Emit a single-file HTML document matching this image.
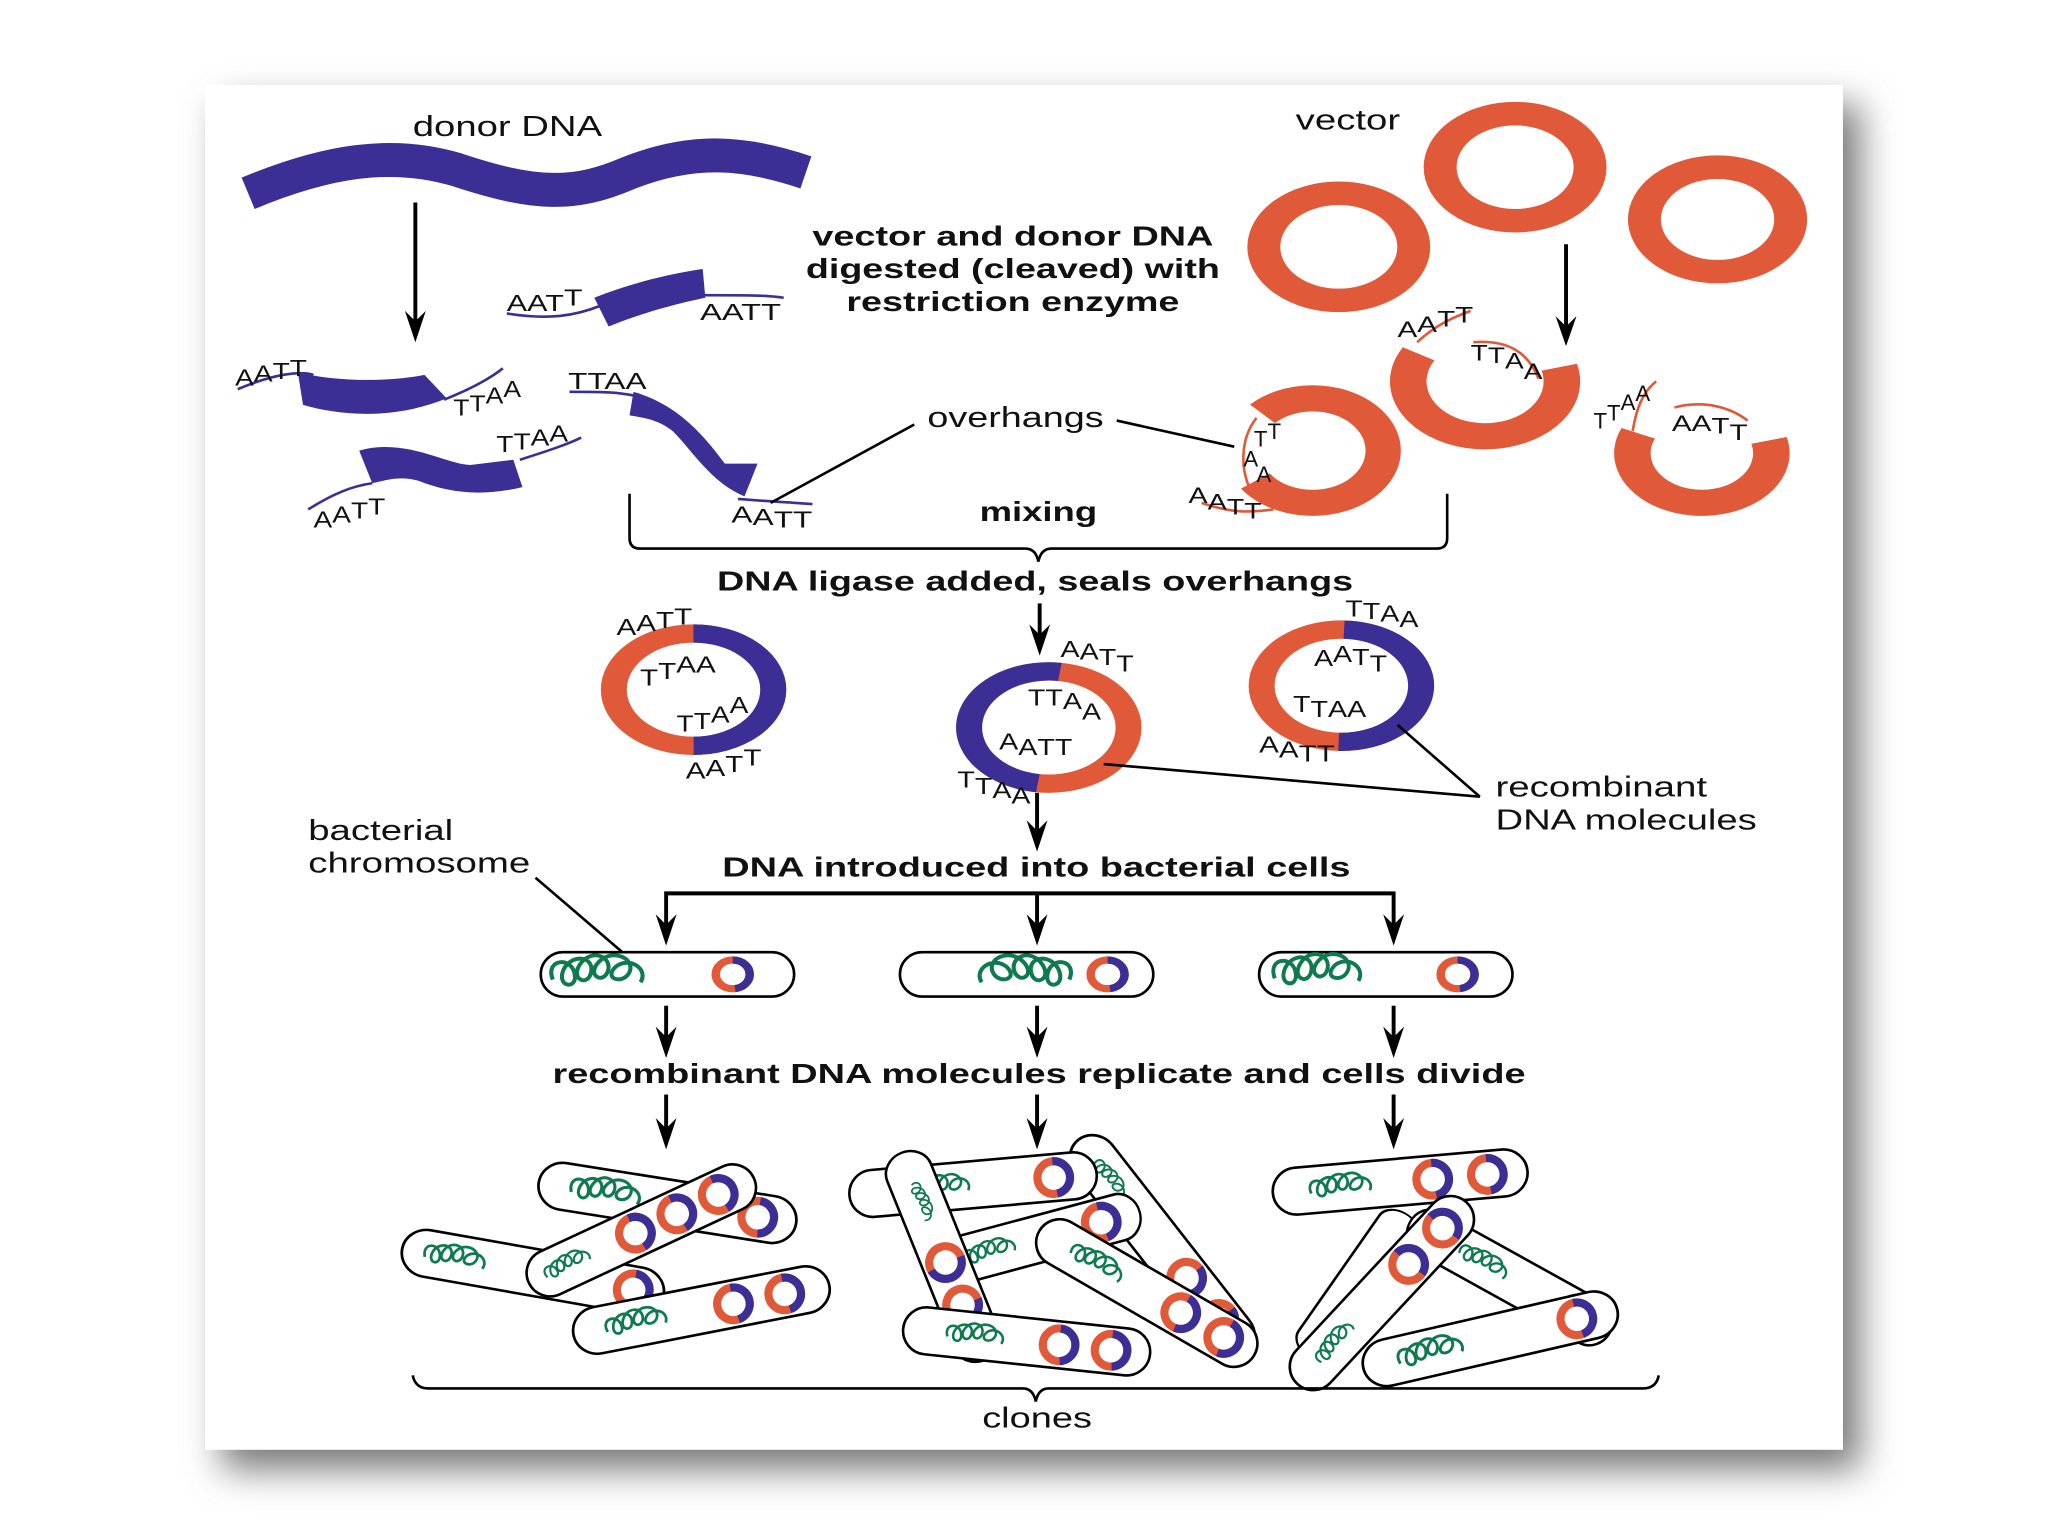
<!DOCTYPE html>
<html><head><meta charset="utf-8"><style>
html,body{margin:0;padding:0;background:#fff}
svg{display:block}
text{font-family:"Liberation Sans",sans-serif;fill:#111}
.b{font-weight:bold}
.s{font-size:18px}
</style></head><body>
<svg width="2048" height="1536" viewBox="0 0 1568 1176" xmlns="http://www.w3.org/2000/svg">
<defs>
<filter id="sh" x="-10%" y="-10%" width="130%" height="130%"><feGaussianBlur stdDeviation="14"/></filter>
<g id="pl"><circle r="10" fill="none" stroke="#e05a3a" stroke-width="5"/><circle r="10" fill="none" stroke="#3b2f96" stroke-width="5" stroke-dasharray="30 33" transform="rotate(-90)"/></g>
<path id="sq" d="M-55,4 c-6,-16 14,-18 16,-4 c2,12 -14,10 -8,-4 c6,-12 22,-10 20,2 c-2,12 -16,6 -8,-6 c8,-12 24,-6 20,6 c-4,10 -16,2 -6,-8 c10,-10 26,-2 22,8 c-4,10 -20,6 -10,-4 c10,-8 24,2 18,12" fill="none" stroke="#0e7a4e" stroke-width="3"/>
<g id="cap"><rect x="-95" y="-18" width="190" height="36" rx="18" fill="#fff" stroke="#000" stroke-width="2"/></g>
</defs>
<rect x="170" y="80" width="1254" height="1045" fill="#777" filter="url(#sh)"/>
<rect x="157" y="65" width="1254" height="1045" fill="#fff"/>

<!-- donor DNA -->
<text x="316" y="104" font-size="22" textLength="145" lengthAdjust="spacingAndGlyphs">donor DNA</text>
<path d="M190,148 C250,123 300,115 350,130 C410,150 440,150 480,133 C530,113 570,116 617,132" fill="none" stroke="#3b2f96" stroke-width="26"/>
<line x1="318" y1="155" x2="318" y2="250" stroke="#000" stroke-width="3"/>
<polygon points="310,238 318,262 326,238 318,246" fill="#000"/>
<!-- fragments -->
<path d="M388,240 C420,245 440,242 460,234" fill="none" stroke="#3b2f96" stroke-width="2"/>
<path d="M538,226 C570,226 590,226 600,228" fill="none" stroke="#3b2f96" stroke-width="2"/>
<path d="M455,228 C480,218 510,210 538,206 L540,228 C520,232 490,240 466,250 Z" fill="#3b2f96"/>
<text x="388" y="238" class="s" textLength="58" lengthAdjust="spacingAndGlyphs">AAT<tspan dy="-4">T</tspan></text>
<text x="536" y="245" class="s" textLength="62" lengthAdjust="spacingAndGlyphs">AATT</text>
<path d="M182,298 C210,286 230,284 240,287" fill="none" stroke="#3b2f96" stroke-width="2"/>
<path d="M228,285 C260,293 300,292 325,287 L342,305 C300,322 260,318 232,310 Z" fill="#3b2f96"/>
<path d="M340,306 C360,298 375,290 385,282" fill="none" stroke="#3b2f96" stroke-width="2"/>
<text x="180" y="295" class="s" textLength="55" lengthAdjust="spacingAndGlyphs">A<tspan dy="-3">A</tspan><tspan dy="-2">T</tspan><tspan dy="-2">T</tspan></text>
<text x="347" y="318" class="s" textLength="52" lengthAdjust="spacingAndGlyphs">T<tspan dy="-3">T</tspan><tspan dy="-6">A</tspan><tspan dy="-5">A</tspan></text>
<path d="M236,390 C255,378 270,372 285,370" fill="none" stroke="#3b2f96" stroke-width="2"/>
<path d="M275,345 C310,335 340,355 360,356 L393,352 L400,373 C370,380 345,378 320,368 C305,364 295,368 285,370 Z" fill="#3b2f96"/>
<path d="M398,352 C420,345 435,340 445,335" fill="none" stroke="#3b2f96" stroke-width="2"/>
<text x="240" y="404" class="s" textLength="55" lengthAdjust="spacingAndGlyphs">A<tspan dy="-4">A</tspan><tspan dy="-3">T</tspan><tspan dy="-3">T</tspan></text>
<text x="380" y="346" class="s" textLength="55" lengthAdjust="spacingAndGlyphs">T<tspan dy="-2">T</tspan><tspan dy="-3">A</tspan><tspan dy="-3">A</tspan></text>
<path d="M436,300 C460,300 475,300 490,304" fill="none" stroke="#3b2f96" stroke-width="2"/>
<path d="M485,300 C520,310 540,335 555,355 L580,355 L570,380 C545,370 530,345 515,330 C505,322 495,320 482,318 Z" fill="#3b2f96"/>
<path d="M565,382 C590,384 610,385 622,386" fill="none" stroke="#3b2f96" stroke-width="2"/>
<text x="435" y="298" class="s" textLength="60" lengthAdjust="spacingAndGlyphs">TTAA</text>
<text x="560" y="400" class="s" textLength="62" lengthAdjust="spacingAndGlyphs">A<tspan dy="2">A</tspan><tspan dy="2">T</tspan>T</text>

<!-- vector -->
<text x="992" y="99" font-size="22" textLength="80" lengthAdjust="spacingAndGlyphs">vector</text>
<g transform="translate(1025,189) scale(1.4,1)"><circle r="41" fill="none" stroke="#e05a3a" stroke-width="18"/></g>
<g transform="translate(1160,128) scale(1.4,1)"><circle r="41" fill="none" stroke="#e05a3a" stroke-width="18"/></g>
<g transform="translate(1315,168) scale(1.4,1)"><circle r="40" fill="none" stroke="#e05a3a" stroke-width="18"/></g>
<line x1="1199" y1="187" x2="1199" y2="255" stroke="#000" stroke-width="3"/>
<polygon points="1191,242 1199,265 1207,242 1199,250" fill="#000"/>
<g transform="translate(1005,345) scale(1.35,1)"><circle r="40" fill="none" stroke="#e05a3a" stroke-width="20" stroke-dasharray="195 56" transform="rotate(225)"/></g>
<path d="M962,320 C950,335 948,360 960,380" fill="none" stroke="#e05a3a" stroke-width="2"/>
<path d="M920,385 C940,392 955,393 975,390" fill="none" stroke="#e05a3a" stroke-width="2"/>
<text x="960" y="342" font-size="17">T<tspan dy="-6">T</tspan></text>
<text x="952" y="357" font-size="17">A</text><text x="962" y="369" font-size="17">A</text>
<text x="910" y="385" font-size="17" textLength="56" lengthAdjust="spacingAndGlyphs">A<tspan dy="5">A</tspan><tspan dy="4">T</tspan><tspan dy="3">T</tspan></text>
<g transform="translate(1137,292) scale(1.4,1)"><circle r="42" fill="none" stroke="#e05a3a" stroke-width="20" stroke-dasharray="165 99" transform="rotate(345)"/></g>
<path d="M1085,262 C1100,248 1115,242 1126,238" fill="none" stroke="#e05a3a" stroke-width="2"/>
<path d="M1128,262 C1155,260 1170,270 1178,290" fill="none" stroke="#e05a3a" stroke-width="2"/>
<text x="1070" y="258" font-size="17" textLength="58" lengthAdjust="spacingAndGlyphs">A<tspan dy="-4">A</tspan><tspan dy="-4">T</tspan><tspan dy="-3">T</tspan></text>
<text x="1126" y="276" font-size="17" textLength="55" lengthAdjust="spacingAndGlyphs">T<tspan dy="2">T</tspan><tspan dy="4">A</tspan><tspan dy="8">A</tspan></text>
<g transform="translate(1303,347) scale(1.4,1)"><circle r="38" fill="none" stroke="#e05a3a" stroke-width="20" stroke-dasharray="145 94" transform="rotate(345)"/></g>
<path d="M1250,330 C1253,312 1258,300 1268,292" fill="none" stroke="#e05a3a" stroke-width="2"/>
<path d="M1282,312 C1305,306 1325,312 1338,322" fill="none" stroke="#e05a3a" stroke-width="2"/>
<text x="1220" y="328" font-size="17">T<tspan dy="-6">T</tspan><tspan dy="-8">A</tspan><tspan dy="-7">A</tspan></text>
<text x="1280" y="330" font-size="17" textLength="58" lengthAdjust="spacingAndGlyphs">AA<tspan dy="2">T</tspan><tspan dy="5">T</tspan></text>

<text x="622" y="188" font-size="21" class="b" textLength="307" lengthAdjust="spacingAndGlyphs">vector and donor DNA</text>
<text x="617" y="213" font-size="21" class="b" textLength="317" lengthAdjust="spacingAndGlyphs">digested (cleaved) with</text>
<text x="648" y="238" font-size="21" class="b" textLength="255" lengthAdjust="spacingAndGlyphs">restriction enzyme</text>

<text x="710" y="327" font-size="22" textLength="135" lengthAdjust="spacingAndGlyphs">overhangs</text>
<line x1="700" y1="325" x2="590" y2="385" stroke="#000" stroke-width="2"/>
<line x1="855" y1="322" x2="945" y2="342" stroke="#000" stroke-width="2"/>
<text x="750" y="399" font-size="21" class="b" textLength="90" lengthAdjust="spacingAndGlyphs">mixing</text>
<path d="M482,378 L482,412 Q482,420 490,420 L785,420 Q793,420 795,430 Q797,420 805,420 L1100,420 Q1108,420 1108,412 L1108,378" fill="none" stroke="#000" stroke-width="2"/>
<text x="549" y="452" font-size="21" class="b" textLength="487" lengthAdjust="spacingAndGlyphs">DNA ligase added, seals overhangs</text>
<line x1="796" y1="462" x2="796" y2="490" stroke="#000" stroke-width="3"/>
<polygon points="788,478 796,502 804,478 796,486" fill="#000"/>

<!-- ligase rings -->
<g transform="translate(531,528) scale(1.42,1)">
<circle r="43" fill="none" stroke="#e05a3a" stroke-width="14"/>
<circle r="43" fill="none" stroke="#3b2f96" stroke-width="14" stroke-dasharray="135 135" transform="rotate(-90)"/>
</g>
<text x="472" y="486" class="s" textLength="58" lengthAdjust="spacingAndGlyphs">A<tspan dy="-3">A</tspan><tspan dy="-2">T</tspan><tspan dy="-3">T</tspan></text>
<text x="490" y="525" class="s" textLength="58" lengthAdjust="spacingAndGlyphs">T<tspan dy="-5">T</tspan><tspan dy="-5">AA</tspan></text>
<text x="518" y="560" class="s" textLength="55" lengthAdjust="spacingAndGlyphs">T<tspan dy="-2">T</tspan><tspan dy="-5">A</tspan><tspan dy="-7">A</tspan></text>
<text x="525" y="596" class="s" textLength="58" lengthAdjust="spacingAndGlyphs">A<tspan dy="-2">A</tspan><tspan dy="-3">T</tspan><tspan dy="-5">T</tspan></text>
<g transform="translate(803,557) scale(1.42,1)">
<circle r="43" fill="none" stroke="#e05a3a" stroke-width="14"/>
<circle r="43" fill="none" stroke="#3b2f96" stroke-width="14" stroke-dasharray="135 135" transform="rotate(98)"/>
</g>
<text x="812" y="503" class="s" textLength="56" lengthAdjust="spacingAndGlyphs">A<tspan dy="2">A</tspan><tspan dy="4">T</tspan><tspan dy="5">T</tspan></text>
<text x="787" y="540" class="s" textLength="56" lengthAdjust="spacingAndGlyphs">TT<tspan dy="3">A</tspan><tspan dy="8">A</tspan></text>
<text x="765" y="574" class="s" textLength="56" lengthAdjust="spacingAndGlyphs">A<tspan dy="4">A</tspan>TT</text>
<text x="733" y="603" class="s" textLength="56" lengthAdjust="spacingAndGlyphs">T<tspan dy="5">T</tspan><tspan dy="3">A</tspan><tspan dy="4">A</tspan></text>
<g transform="translate(1027,525) scale(1.42,1)">
<circle r="43" fill="none" stroke="#e05a3a" stroke-width="14"/>
<circle r="43" fill="none" stroke="#3b2f96" stroke-width="14" stroke-dasharray="135 135" transform="rotate(-88)"/>
</g>
<text x="1030" y="472" class="s" textLength="56" lengthAdjust="spacingAndGlyphs">T<tspan dy="2">T</tspan><tspan dy="2">A</tspan><tspan dy="4">A</tspan></text>
<text x="1006" y="510" class="s" textLength="56" lengthAdjust="spacingAndGlyphs">A<tspan dy="-3">A</tspan><tspan dy="2">T</tspan><tspan dy="5">T</tspan></text>
<text x="990" y="545" class="s" textLength="56" lengthAdjust="spacingAndGlyphs">T<tspan dy="4">T</tspan>AA</text>
<text x="964" y="576" class="s" textLength="58" lengthAdjust="spacingAndGlyphs">A<tspan dy="4">A</tspan><tspan dy="3">T</tspan>T</text>
<text x="1145" y="610" font-size="22" textLength="162" lengthAdjust="spacingAndGlyphs">recombinant</text>
<text x="1145" y="635" font-size="22" textLength="200" lengthAdjust="spacingAndGlyphs">DNA molecules</text>
<line x1="1133" y1="610" x2="1070" y2="555" stroke="#000" stroke-width="2"/>
<line x1="1133" y1="610" x2="845" y2="585" stroke="#000" stroke-width="2"/>
<line x1="794" y1="607" x2="794" y2="640" stroke="#000" stroke-width="3"/>
<polygon points="786,628 794,652 802,628 794,636" fill="#000"/>

<text x="236" y="643" font-size="22" textLength="111" lengthAdjust="spacingAndGlyphs">bacterial</text>
<text x="236" y="668" font-size="22" textLength="170" lengthAdjust="spacingAndGlyphs">chromosome</text>
<line x1="410" y1="672" x2="480" y2="732" stroke="#000" stroke-width="2"/>
<text x="553" y="671" font-size="21" class="b" textLength="481" lengthAdjust="spacingAndGlyphs">DNA introduced into bacterial cells</text>
<path d="M510,712 L510,684 L1067,684 L1067,712 M794,684 L794,712" fill="none" stroke="#000" stroke-width="3"/>
<polygon points="502,700 510,724 518,700 510,708" fill="#000"/>
<polygon points="786,700 794,724 802,700 794,708" fill="#000"/>
<polygon points="1059,700 1067,724 1075,700 1067,708" fill="#000"/>

<g transform="translate(511,746)">
<rect x="-97" y="-17" width="194" height="34" rx="17" fill="#fff" stroke="#000" stroke-width="2"/>
<use href="#sq" transform="translate(-30,0) scale(1.05,1)"/><g transform="translate(50,0) scale(1.3,1.1)"><use href="#pl"/></g></g>
<g transform="translate(786,746)">
<rect x="-97" y="-17" width="194" height="34" rx="17" fill="#fff" stroke="#000" stroke-width="2"/>
<use href="#sq" transform="translate(-25,0) scale(-1.05,1)"/><g transform="translate(62,0) scale(1.3,1.1)"><use href="#pl"/></g></g>
<g transform="translate(1061,746)">
<rect x="-97" y="-17" width="194" height="34" rx="17" fill="#fff" stroke="#000" stroke-width="2"/>
<use href="#sq" transform="translate(-30,-1) scale(1,1)"/><g transform="translate(55,0) scale(1.3,1.1)"><use href="#pl"/></g></g>

<line x1="510" y1="770" x2="510" y2="798" stroke="#000" stroke-width="3"/>
<line x1="794" y1="770" x2="794" y2="798" stroke="#000" stroke-width="3"/>
<line x1="1067" y1="770" x2="1067" y2="798" stroke="#000" stroke-width="3"/>
<polygon points="502,786 510,810 518,786 510,794" fill="#000"/>
<polygon points="786,786 794,810 802,786 794,794" fill="#000"/>
<polygon points="1059,786 1067,810 1075,786 1067,794" fill="#000"/>
<text x="423" y="829" font-size="21" class="b" textLength="745" lengthAdjust="spacingAndGlyphs">recombinant DNA molecules replicate and cells divide</text>
<line x1="510" y1="838" x2="510" y2="868" stroke="#000" stroke-width="3"/>
<line x1="794" y1="838" x2="794" y2="868" stroke="#000" stroke-width="3"/>
<line x1="1067" y1="838" x2="1067" y2="868" stroke="#000" stroke-width="3"/>
<polygon points="502,856 510,880 518,856 510,864" fill="#000"/>
<polygon points="786,856 794,880 802,856 794,864" fill="#000"/>
<polygon points="1059,856 1067,880 1075,856 1067,864" fill="#000"/>

<!-- clones left -->
<g transform="translate(511,921) rotate(9)"><use href="#cap" transform="scale(1.05,1)"/><use href="#sq" transform="translate(-30,0) scale(0.8)"/><use href="#pl" transform="translate(70,0) scale(1.25)"/></g>
<g transform="translate(408,974) rotate(10)"><use href="#cap" transform="scale(1.07,1)"/><use href="#sq" transform="translate(-45,0) scale(0.7)"/><use href="#pl" transform="translate(78,0) scale(1.25)"/></g>
<g transform="translate(491,942) rotate(-25)"><use href="#cap"/><use href="#sq" transform="translate(-50,0) scale(0.55)"/><use href="#pl" transform="translate(-5,0) scale(1.25)"/><use href="#pl" transform="translate(30,0) scale(1.25)"/><use href="#pl" transform="translate(65,0) scale(1.25)"/></g>
<g transform="translate(537,1003) rotate(-11)"><use href="#cap" transform="scale(1.05,1)"/><use href="#sq" transform="translate(-35,0) scale(0.7)"/><use href="#pl" transform="translate(25,0) scale(1.25)"/><use href="#pl" transform="translate(65,0) scale(1.25)"/></g>
<!-- clones middle -->
<g transform="translate(890,955) rotate(52)"><use href="#cap" transform="scale(1.1,1)"/><use href="#sq" transform="translate(-55,0) scale(0.5)"/><use href="#pl" transform="translate(30,0) scale(1.25)"/><use href="#pl" transform="translate(70,0) scale(1.25)"/></g>
<g transform="translate(745,907) rotate(-5)"><use href="#cap"/><use href="#sq" transform="translate(-10,0) scale(0.65)"/><use href="#pl" transform="translate(62,0) scale(1.25)"/></g>
<g transform="translate(790,950) rotate(-15)"><use href="#cap" transform="scale(0.9,1)"/><use href="#sq" transform="translate(-20,0) scale(0.6)"/><use href="#pl" transform="translate(55,0) scale(1.25)"/></g>
<g transform="translate(722,962) rotate(68)"><use href="#cap" transform="scale(0.9,1)"/><use href="#sq" transform="translate(-35,0) scale(0.45)"/><use href="#pl" transform="translate(5,0) scale(1.25)"/><use href="#pl" transform="translate(40,0) scale(1.25)"/></g>
<g transform="translate(878,990) rotate(30)"><use href="#cap"/><use href="#sq" transform="translate(-30,0) scale(0.65)"/><use href="#pl" transform="translate(30,0) scale(1.25)"/><use href="#pl" transform="translate(68,0) scale(1.25)"/></g>
<g transform="translate(786,1027) rotate(6)"><use href="#cap"/><use href="#sq" transform="translate(-25,0) scale(0.65)"/><use href="#pl" transform="translate(25,0) scale(1.25)"/><use href="#pl" transform="translate(65,0) scale(1.25)"/></g>
<!-- clones right -->
<g transform="translate(1072,905) rotate(-5)"><use href="#cap" transform="scale(1.03,1)"/><use href="#sq" transform="translate(-30,0) scale(0.7)"/><use href="#pl" transform="translate(25,0) scale(1.25)"/><use href="#pl" transform="translate(67,0) scale(1.25)"/></g>
<g transform="translate(1040,985) rotate(-55)"><use href="#cap" transform="scale(0.7,1)"/></g>
<g transform="translate(1156,978) rotate(29)"><use href="#cap" transform="scale(0.92,1)"/><use href="#sq" transform="translate(-10,0) scale(0.6)"/><use href="#pl" transform="translate(58,0) scale(1.25)"/></g>
<g transform="translate(1058,990) rotate(-47)"><use href="#cap" transform="scale(1,1)"/><use href="#sq" transform="translate(-40,0) scale(0.55)"/><use href="#pl" transform="translate(30,0) scale(1.25)"/><use href="#pl" transform="translate(68,0) scale(1.25)"/></g>
<g transform="translate(1141,1025) rotate(-13)"><use href="#cap" transform="scale(1.05,1)"/><use href="#sq" transform="translate(-30,0) scale(0.75)"/><use href="#pl" transform="translate(68,0) scale(1.25)"/></g>

<path d="M316,1053 Q318,1063 328,1063 L783,1063 Q791,1063 793,1073 Q795,1063 803,1063 L1258,1063 Q1268,1063 1270,1053" fill="none" stroke="#000" stroke-width="2"/>
<text x="752" y="1093" font-size="22" textLength="84" lengthAdjust="spacingAndGlyphs">clones</text>
</svg>
</body></html>
